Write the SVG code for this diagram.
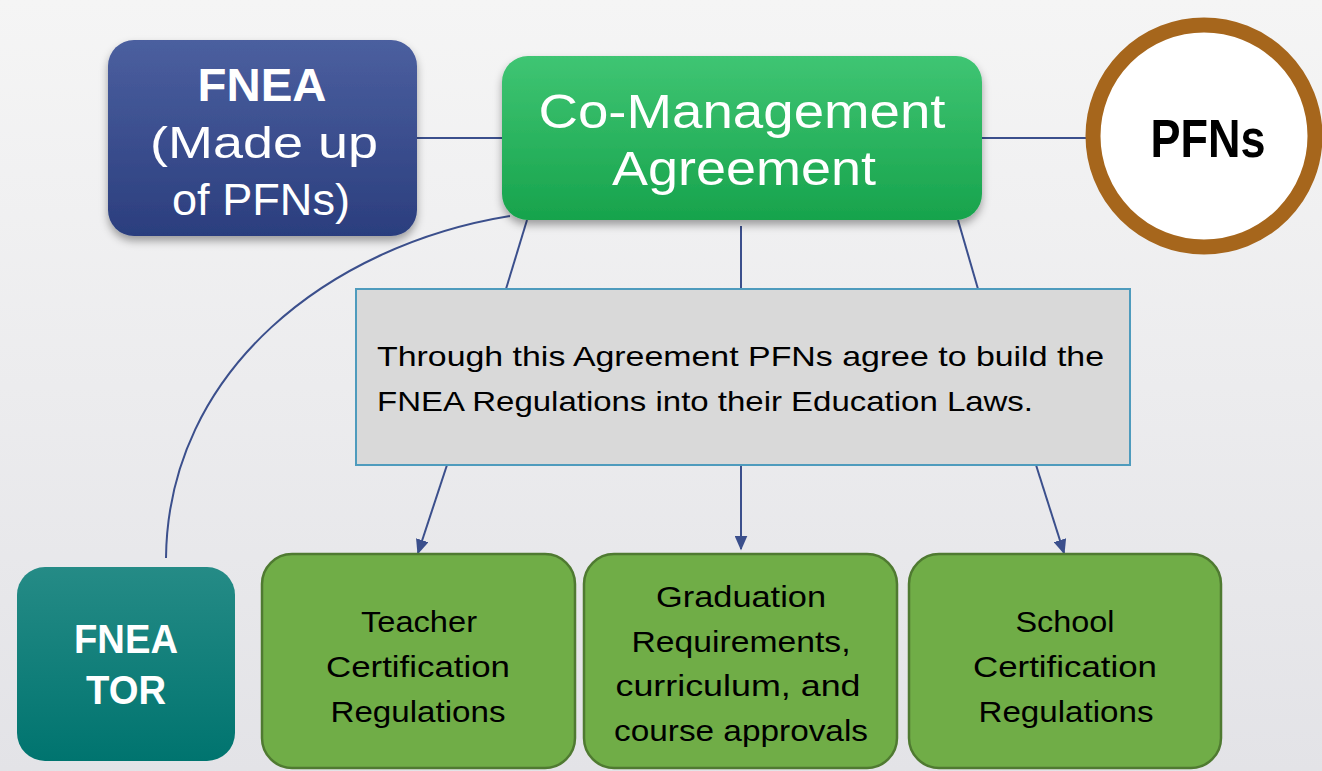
<svg xmlns="http://www.w3.org/2000/svg" width="1322" height="771" viewBox="0 0 1322 771">
<defs>
<linearGradient id="bg" x1="0" y1="0" x2="0" y2="1"><stop offset="0" stop-color="#f5f5f5"/><stop offset="1" stop-color="#e3e3e7"/></linearGradient>
<linearGradient id="blue" x1="0" y1="0" x2="0" y2="1"><stop offset="0" stop-color="#4b5f9f"/><stop offset="1" stop-color="#2b3e7e"/></linearGradient>
<linearGradient id="green" x1="0" y1="0" x2="0" y2="1"><stop offset="0" stop-color="#3fc573"/><stop offset="1" stop-color="#17a34c"/></linearGradient>
<linearGradient id="teal" x1="0" y1="0" x2="0" y2="1"><stop offset="0" stop-color="#258b86"/><stop offset="1" stop-color="#00746f"/></linearGradient>
<filter id="sh" x="-10%" y="-10%" width="120%" height="130%"><feDropShadow dx="0" dy="5" stdDeviation="4" flood-color="#000" flood-opacity="0.35"/></filter>
<marker id="ah" viewBox="0 0 10 10" refX="9" refY="5" markerWidth="15" markerHeight="13" orient="auto" markerUnits="userSpaceOnUse" preserveAspectRatio="none"><path d="M0,0 L10,5 L0,10 z" fill="#3b4f8c"/></marker>
<style>
.c{stroke:#3b4f8c;stroke-width:2;fill:none}
.ca{stroke:#3b4f8c;stroke-width:2;fill:none;marker-end:url(#ah)}
.reg{fill:#70ad47;stroke:#4f7a31;stroke-width:2.5}
.rt{font-family:"Liberation Sans",Arial,sans-serif;font-size:30px;fill:#000;text-anchor:middle}
.wt{font-family:"Liberation Sans",Arial,sans-serif;fill:#fff;text-anchor:middle}
</style>
</defs>
<rect width="1322" height="771" fill="url(#bg)"/>
<g id="connectors">
<line class="c" x1="417" y1="138" x2="502" y2="138"/>
<line class="c" x1="982" y1="138" x2="1088" y2="138"/>
<line class="c" x1="527" y1="220" x2="506" y2="289"/>
<line class="c" x1="741" y1="226" x2="741" y2="289"/>
<line class="c" x1="958" y1="220" x2="978" y2="289"/>
<path class="c" d="M510 216 C330 245 168 370 166 558"/>
<line class="ca" x1="447" y1="465" x2="418" y2="553"/>
<line class="ca" x1="741" y1="465" x2="741" y2="549"/>
<line class="ca" x1="1036" y1="465" x2="1064" y2="553"/>
</g>
<g id="fnea">
<rect x="108" y="40" width="309" height="196" rx="26" fill="url(#blue)" filter="url(#sh)"/>
<text class="wt" x="262" y="101" font-size="46" font-weight="bold" textLength="129" lengthAdjust="spacingAndGlyphs">FNEA</text>
<text class="wt" x="264" y="158" font-size="44" textLength="228" lengthAdjust="spacingAndGlyphs">(Made up</text>
<text class="wt" x="261" y="215" font-size="44" textLength="178" lengthAdjust="spacingAndGlyphs">of PFNs)</text>
</g>
<g id="comanagement">
<rect x="502" y="56" width="480" height="164" rx="26" fill="url(#green)" filter="url(#sh)"/>
<text class="wt" x="742" y="128" font-size="48" textLength="407" lengthAdjust="spacingAndGlyphs">Co-Management</text>
<text class="wt" x="744" y="185" font-size="48" textLength="264" lengthAdjust="spacingAndGlyphs">Agreement</text>
</g>
<g id="pfns">
<circle cx="1204" cy="136" r="111" fill="#fff" stroke="#a6661c" stroke-width="15"/>
<text x="1208" y="157" font-family="'Liberation Sans',Arial,sans-serif" font-size="53" font-weight="bold" text-anchor="middle" fill="#000" textLength="115" lengthAdjust="spacingAndGlyphs">PFNs</text>
</g>
<g id="agreement-note">
<rect x="356" y="289" width="774" height="176" fill="#d9d9d9" stroke="#4e9bbd" stroke-width="2"/>
<text x="377" y="366" font-family="'Liberation Sans',Arial,sans-serif" font-size="28" fill="#000" textLength="727" lengthAdjust="spacingAndGlyphs">Through this Agreement PFNs agree to build the</text>
<text x="377" y="411" font-family="'Liberation Sans',Arial,sans-serif" font-size="28" fill="#000" textLength="656" lengthAdjust="spacingAndGlyphs">FNEA Regulations into their Education Laws.</text>
</g>
<g id="fnea-tor">
<rect x="17" y="567" width="218" height="194" rx="28" fill="url(#teal)"/>
<text class="wt" x="126" y="653" font-size="40" font-weight="bold" textLength="104" lengthAdjust="spacingAndGlyphs">FNEA</text>
<text class="wt" x="126" y="704" font-size="40" font-weight="bold" textLength="80" lengthAdjust="spacingAndGlyphs">TOR</text>
</g>
<g id="teacher">
<rect class="reg" x="262" y="554" width="313" height="214" rx="30"/>
<text class="rt" x="419" y="632" textLength="116" lengthAdjust="spacingAndGlyphs">Teacher</text>
<text class="rt" x="418" y="677" textLength="184" lengthAdjust="spacingAndGlyphs">Certification</text>
<text class="rt" x="418" y="722" textLength="175" lengthAdjust="spacingAndGlyphs">Regulations</text>
</g>
<g id="graduation">
<rect class="reg" x="584" y="554" width="313" height="214" rx="30"/>
<text class="rt" x="741" y="607" textLength="170" lengthAdjust="spacingAndGlyphs">Graduation</text>
<text class="rt" x="741" y="652" textLength="219" lengthAdjust="spacingAndGlyphs">Requirements,</text>
<text class="rt" x="738" y="696" textLength="245" lengthAdjust="spacingAndGlyphs">curriculum, and</text>
<text class="rt" x="741" y="741" textLength="254" lengthAdjust="spacingAndGlyphs">course approvals</text>
</g>
<g id="school">
<rect class="reg" x="909" y="554" width="312" height="214" rx="30"/>
<text class="rt" x="1065" y="632" textLength="99" lengthAdjust="spacingAndGlyphs">School</text>
<text class="rt" x="1065" y="677" textLength="184" lengthAdjust="spacingAndGlyphs">Certification</text>
<text class="rt" x="1066" y="722" textLength="175" lengthAdjust="spacingAndGlyphs">Regulations</text>
</g>
</svg>
